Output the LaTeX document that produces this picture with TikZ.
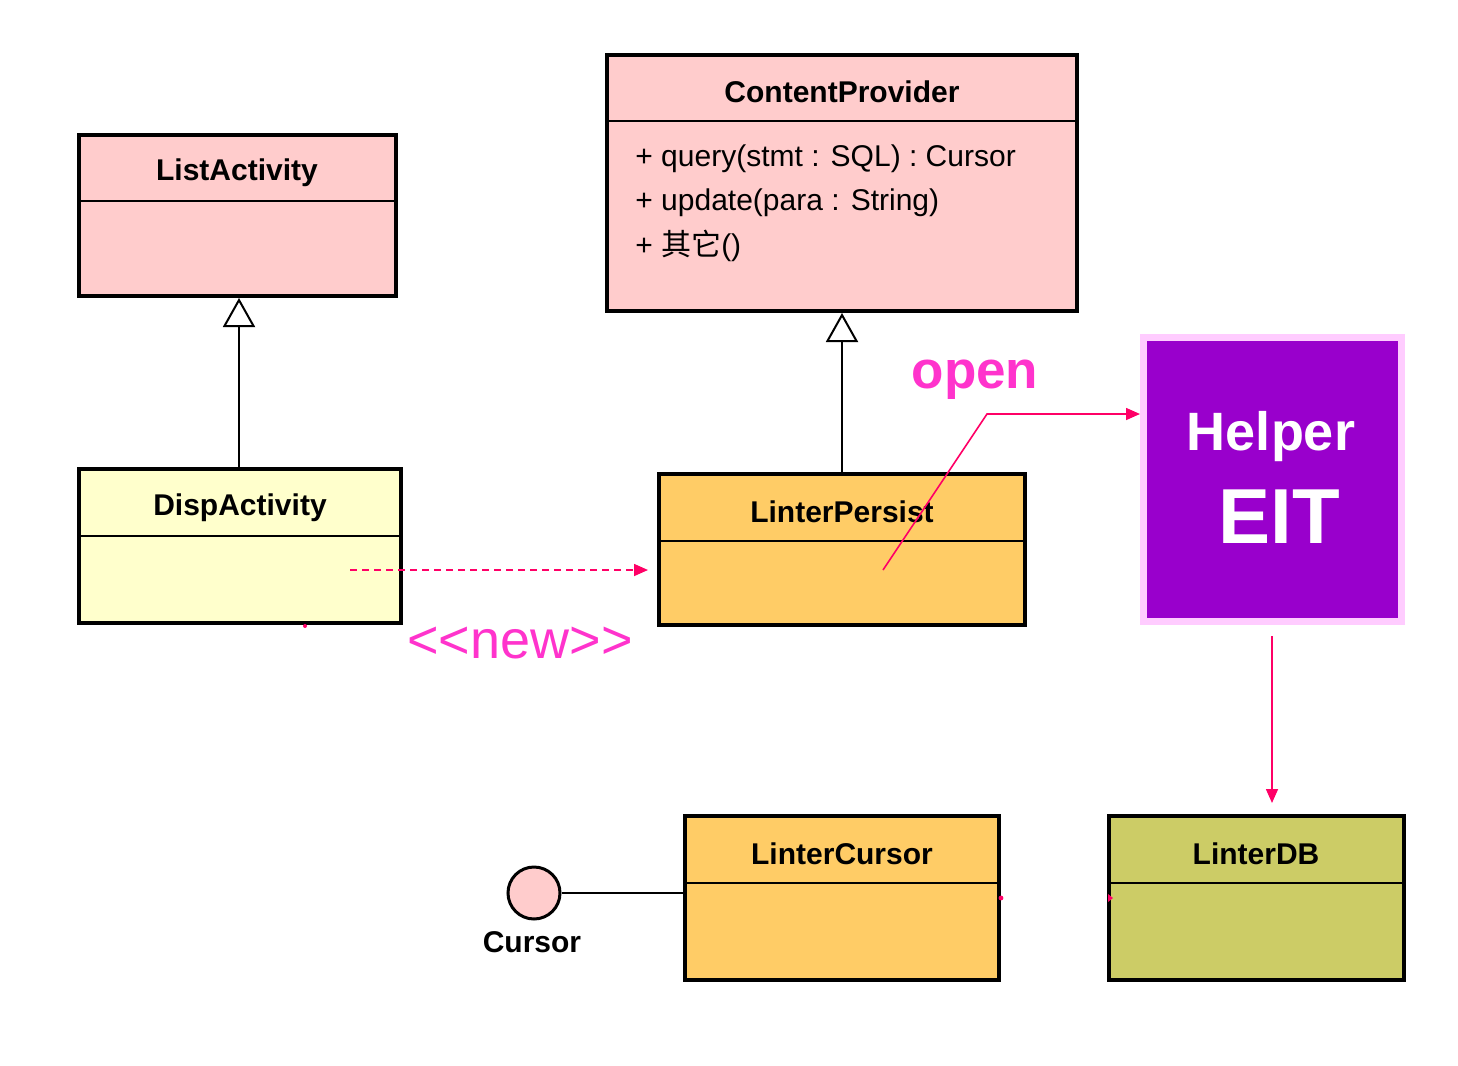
\documentclass[tikz,border=0pt]{standalone}
\usepackage{fontspec}
\setmainfont{Liberation Sans}
\newfontfamily\cjk{Noto Sans CJK SC}
\usetikzlibrary{arrows.meta,fit}
\definecolor{clsPink}{HTML}{FFCCCC}
\definecolor{clsYellow}{HTML}{FFFFCC}
\definecolor{clsOrange}{HTML}{FFCC66}
\definecolor{clsOlive}{HTML}{CCCC66}
\definecolor{helperPurple}{HTML}{9900CC}
\definecolor{helperRim}{HTML}{FFCCFF}
\definecolor{noteMagenta}{HTML}{FF33CC}
\definecolor{arrowRed}{HTML}{FF0066}
\begin{document}
\begin{tikzpicture}[x=0.5pt,y=-0.5pt,
  cls/.style={draw=black, line width=2pt, inner sep=0pt},
  ttl/.style={font=\bfseries\fontsize{15}{18}\selectfont, inner sep=0pt},
  meth/.style={font=\fontsize{15}{18}\selectfont, anchor=west, inner sep=0pt},
  sepline/.style={line width=1pt},
  inh/.style={line width=1pt, -{Triangle[fill=white,length=14.5pt,width=16pt]}},
  rarr/.style={draw=arrowRed, line width=0.8pt, -{Triangle[length=7pt,width=6pt]}},
  note/.style={text=noteMagenta, inner sep=0pt}]
\useasboundingbox (0,0) rectangle (1458,1066);

% ListActivity
\node[cls, fill=clsPink, fit={(79,135) (396,296)}] (list) {};
\draw[sepline] (79,201) -- (396,201);
\node[ttl] (listT) at (237,173) {ListActivity};

% DispActivity
\node[cls, fill=clsYellow, fit={(79,469) (401,623)}] (disp) {};
\draw[sepline] (79,536) -- (401,536);
\node[ttl] (dispT) at (240,508) {DispActivity};

% ContentProvider
\node[cls, fill=clsPink, fit={(607,55) (1077,311)}] (cp) {};
\draw[sepline] (607,121) -- (1077,121);
\node[ttl] (cpT) at (842,92) {ContentProvider};
\node[meth] (m1) at (635,159) {+ query(stmt : SQL) : Cursor};
\node[meth] (m2) at (635,203) {+ update(para : String)};
\node[meth] (m3) at (635,246) {+ {\cjk 其它}()};

% LinterPersist
\node[cls, fill=clsOrange, fit={(659,474) (1025,625)}] (persist) {};
\draw[sepline] (659,541) -- (1025,541);
\node[ttl] (persistT) at (842,512) {LinterPersist};

% LinterCursor
\node[cls, fill=clsOrange, fit={(685,816) (999,980)}] (lcursor) {};
\draw[sepline] (685,883) -- (999,883);
\node[ttl] (lcursorT) at (842,854) {LinterCursor};

% LinterDB
\node[cls, fill=clsOlive, fit={(1109,816) (1404,980)}] (ldb) {};
\draw[sepline] (1109,883) -- (1404,883);
\node[ttl] (ldbT) at (1256,854) {LinterDB};

% Helper EIT
\node[draw=helperRim, fill=helperPurple, line width=3.5pt, inner sep=0pt,
      fit={(1143.5,337.5) (1401.5,621.5)}] (helper) {};
\node[text=white, font=\bfseries\fontsize{27}{30}\selectfont, inner sep=0pt] (helperT) at (1271,437) {Helper};
\node[text=white, font=\bfseries\fontsize{39}{42}\selectfont, inner sep=0pt] (eitT) at (1279,517) {EIT};

% Cursor interface
\node[circle, draw=black, fill=clsPink, line width=1.5pt, minimum size=26pt, inner sep=0pt] (cursorc) at (534,893) {};
\node[ttl] (cursorL) at (532,942) {Cursor};
\draw[line width=1pt] (cursorc.east) -- (lcursor.west |- cursorc.east);

% generalisations
\draw[inh] (disp.north -| 239,0) -- (list.south -| 239,0);
\draw[inh] (persist.north) -- (cp.south);

% <<new>>
\coordinate (dstart) at (350,570);
\coordinate (dend) at (648,570);
\draw[rarr, dash pattern=on 3.5pt off 2.5pt] (dstart) -- (dend);
\node[note, font=\fontsize{27}{30}\selectfont] (newL) at (520,643) {<{}<new>{}>};

% open
\coordinate (ostart) at (883,570);
\coordinate (obend) at (987,414);
\draw[rarr] (ostart) -- (obend) -- (helper.west |- obend);
\node[note, font=\bfseries\fontsize{26.5}{30}\selectfont] (openL) at (975,380) {open};

% helper to LinterDB
\coordinate (hstart) at (1272,636);
\coordinate (hend) at (1272,803);
\draw[rarr] (hstart) -- (hend);

% small leftover marks
\fill[arrowRed] (1001,898) circle (1.2pt);
\fill[arrowRed] (1108,894) -- (1113,898) -- (1108,902) -- cycle;
\fill[arrowRed] (305,626) circle (1pt);
\end{tikzpicture}
\end{document}
